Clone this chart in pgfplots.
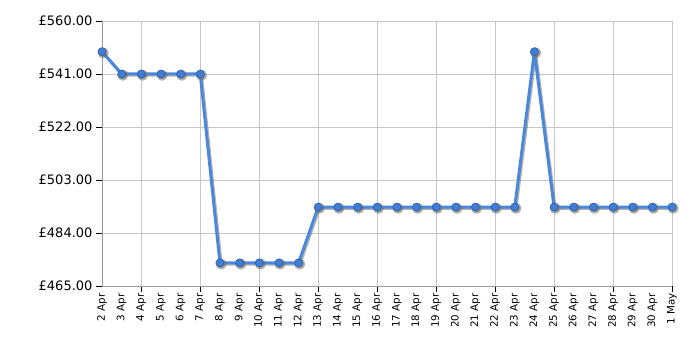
\documentclass[border=0pt]{standalone}
\usepackage{fontspec}
\setmainfont{DejaVu Sans}
\usepackage{pgfplots}
\pgfplotsset{compat=1.18}
\definecolor{linec}{HTML}{4A88DC}
\definecolor{markc}{HTML}{3F7ED6}
\definecolor{markedge}{HTML}{2A5CA8}
\begin{document}
\begin{tikzpicture}
\begin{axis}[
  name=ax,
  scale only axis,
  width=570pt, height=265pt,
  xmin=0, xmax=29, ymin=465, ymax=560,
  ytick={465,484,503,522,541,560},
  yticklabel style={font=\fontsize{13}{15}\selectfont},
  yticklabel={£\pgfmathprintnumber[fixed,fixed zerofill,precision=2,assume math mode=true]{\tick}},
  xtick={2,5,...,29},
  xticklabels={},
  extra x ticks={0,...,29},
  extra x tick labels={2 Apr,3 Apr,4 Apr,5 Apr,6 Apr,7 Apr,8 Apr,9 Apr,10 Apr,11 Apr,12 Apr,13 Apr,14 Apr,15 Apr,16 Apr,17 Apr,18 Apr,19 Apr,20 Apr,21 Apr,22 Apr,23 Apr,24 Apr,25 Apr,26 Apr,27 Apr,28 Apr,29 Apr,30 Apr,1 May},
  extra x tick style={major tick length=0pt, grid=none, xticklabel style={rotate=90, anchor=east, font=\fontsize{10.3}{12}\selectfont, xshift=-4pt}},
  xmajorgrids, ymajorgrids,
  major grid style={gray!45, line width=0.6pt},
  axis line style={gray!80, line width=0.8pt},
  tick style={black, line width=0.8pt},
  major tick length=6pt,
  tick align=outside,
  xtick pos=bottom, ytick pos=left,
  axis x line*=bottom, axis y line*=left,
  clip=false,
]
\addplot[black!55, opacity=0.55, line width=3pt, line join=round, xshift=1.2pt, yshift=-1.2pt, mark=*, mark size=4pt, mark options={fill=black!55, draw=none}] coordinates {
(0,549)(1,541)(2,541)(3,541)(4,541)(5,541)(6,473.3)(7,473.3)(8,473.3)(9,473.3)(10,473.3)(11,493.3)(12,493.3)(13,493.3)(14,493.3)(15,493.3)(16,493.3)(17,493.3)(18,493.3)(19,493.3)(20,493.3)(21,493.3)(22,549)(23,493.3)(24,493.3)(25,493.3)(26,493.3)(27,493.3)(28,493.3)(29,493.3)
};
\addplot[linec, line width=3pt, line join=round, mark=*, mark size=4pt, mark options={fill=markc, draw=markedge, line width=0.6pt}] coordinates {
(0,549)(1,541)(2,541)(3,541)(4,541)(5,541)(6,473.3)(7,473.3)(8,473.3)(9,473.3)(10,473.3)(11,493.3)(12,493.3)(13,493.3)(14,493.3)(15,493.3)(16,493.3)(17,493.3)(18,493.3)(19,493.3)(20,493.3)(21,493.3)(22,549)(23,493.3)(24,493.3)(25,493.3)(26,493.3)(27,493.3)(28,493.3)(29,493.3)
};
\end{axis}
\path (ax.south west) ++(-102pt,-64pt) coordinate (bl);
\path (ax.north east) ++(28pt,21pt) coordinate (tr);
\useasboundingbox (bl) rectangle (tr);
\end{tikzpicture}
\end{document}
